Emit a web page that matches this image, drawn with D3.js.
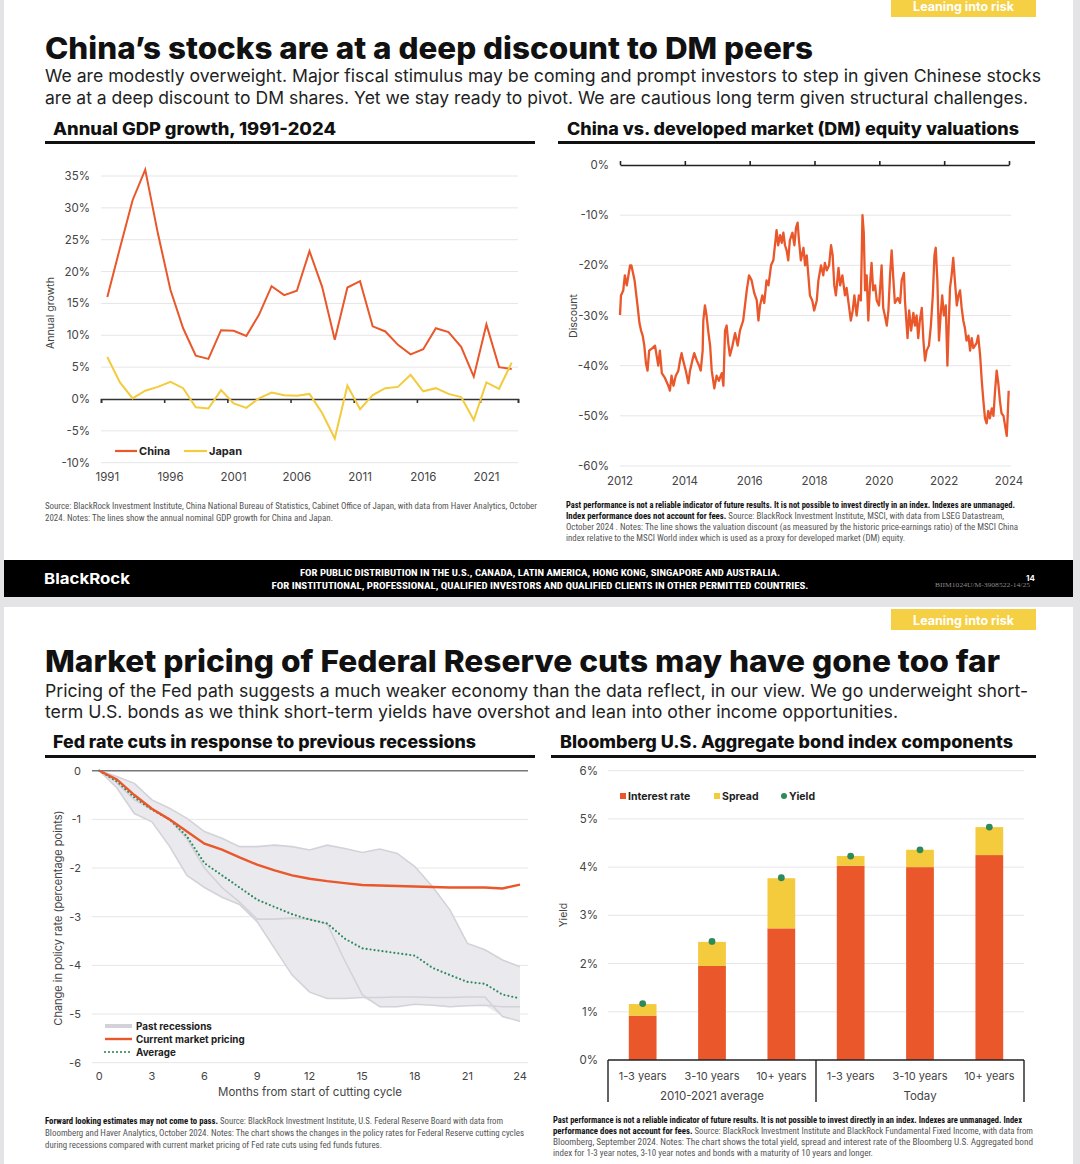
<!DOCTYPE html>
<html>
<head>
<meta charset="utf-8">
<script src="https://cdn.jsdelivr.net/npm/d3@7"></script>
<style>
  body { margin: 0; background: #e4e4e7; }
  svg { display: block; }
</style>
</head>
<body>
<svg id="page"></svg>
<script>
// ---------- data ----------
const gdpYears = [1991,1992,1993,1994,1995,1996,1997,1998,1999,2000,2001,2002,2003,2004,2005,2006,2007,
  2008,2009,2010,2011,2012,2013,2014,2015,2016,2017,2018,2019,2020,2021,2022,2023]
const chinaGdp = [16.0,23.7,31.2,36.0,26.0,17.1,11.1,6.8,6.3,10.8,10.7,9.9,13.2,17.7,16.3,17.0,23.2,
  17.6,9.3,17.5,18.5,11.4,10.6,8.5,7.0,7.8,11.1,10.5,8.2,3.5,11.7,5.0,4.7]
const japanGdp = [6.6,2.6,0.1,1.3,1.9,2.7,1.7,-1.3,-1.5,1.4,-0.7,-1.4,0.1,1.0,0.6,0.5,0.8,
  -2.2,-6.2,2.1,-1.6,0.6,1.7,1.9,3.8,1.2,1.7,0.8,0.3,-3.3,2.6,1.6,5.7]
const gdpTickYears = [1991,1996,2001,2006,2011,2016,2021]
const gdpTicks = [-10,-5,0,5,10,15,20,25,30,35]

const valDates = [
  2012.00,2012.03,2012.10,2012.15,2012.21,2012.26,2012.31,2012.35,2012.40,2012.45,2012.54,2012.60,2012.65,2012.70,2012.75,2012.80,2012.85,2012.90,
  2013.00,2013.08,2013.18,2013.23,2013.29,2013.39,2013.49,2013.54,2013.59,2013.65,2013.72,2013.80,2013.85,2013.90,2013.95,
  2014.03,2014.11,2014.16,2014.23,2014.29,2014.37,2014.44,2014.49,2014.55,2014.57,2014.62,2014.67,2014.72,2014.78,2014.83,2014.91,2014.98,
  2015.05,2015.14,2015.19,2015.24,2015.29,2015.34,2015.39,2015.47,2015.55,2015.63,2015.70,2015.80,2015.91,2015.98,
  2016.06,2016.14,2016.22,2016.27,2016.32,2016.39,2016.45,2016.52,2016.58,2016.66,2016.73,2016.78,2016.83,2016.88,2016.94,2016.99,
  2017.04,2017.09,2017.14,2017.19,2017.24,2017.32,2017.38,2017.43,2017.48,2017.52,2017.58,2017.66,2017.71,2017.76,2017.81,2017.86,2017.93,2017.99,
  2018.07,2018.12,2018.20,2018.27,2018.32,2018.38,2018.45,2018.51,2018.56,2018.61,2018.66,2018.74,2018.79,2018.86,2018.94,2018.99,
  2019.04,2019.12,2019.18,2019.23,2019.30,2019.37,2019.43,2019.48,2019.52,2019.56,2019.61,2019.66,2019.71,2019.76,2019.81,2019.87,2019.92,2019.99,
  2020.07,2020.12,2020.17,2020.23,2020.28,2020.33,2020.38,2020.43,2020.48,2020.57,2020.64,2020.69,2020.76,2020.79,2020.87,2020.92,2020.98,
  2021.05,2021.10,2021.15,2021.20,2021.25,2021.31,2021.36,2021.41,2021.46,2021.53,2021.59,2021.65,2021.70,2021.74,2021.79,2021.84,2021.89,2021.94,2021.99,
  2022.05,2022.10,2022.13,2022.18,2022.23,2022.28,2022.33,2022.39,2022.44,2022.49,2022.54,2022.59,2022.64,2022.69,2022.75,2022.80,2022.85,2022.90,2022.95,
  2023.00,2023.05,2023.11,2023.16,2023.21,2023.26,2023.31,2023.36,2023.41,2023.47,2023.52,2023.57,2023.62,2023.67,2023.72,2023.77,2023.83,2023.88,2023.93,2023.96,2023.99]
const valDiscount = [
  -29.9,-26,-25,-22,-24,-22,-20,-20,-21.5,-23,-28,-31.5,-33,-34,-36,-39.5,-41,-37,
  -36.5,-36,-40,-37,-41.5,-42.5,-44,-45,-42,-44,-42,-41,-39,-37.5,-39,
  -41,-43.5,-41,-39,-37.5,-39,-40,-41,-37,-31,-28,-30,-33,-36,-41,-44.5,-42,
  -43,-41.5,-44,-33,-32,-35.5,-38,-36,-33.5,-36,-33,-31,-25,-22,
  -23,-25.5,-27,-31,-28,-26,-27.5,-23,-24,-20,-19,-16,-13,-16,-14,-15.5,
  -13.5,-16,-17,-19,-15,-13.5,-16,-12.5,-11.5,-15,-19,-16.5,-20,-18,-22,-26,-27,-29,
  -27,-23,-20,-22,-19.5,-21,-20,-16,-18,-24,-26,-20.5,-24,-22,-26,-24.5,
  -27,-31,-29,-26,-30,-26,-27,-10,-13.5,-25,-22,-31,-24,-19.5,-25,-24,-27,-28,
  -20,-28.5,-30,-32,-29,-22,-17,-22.5,-27.5,-26.5,-27.5,-23,-21.5,-27,-34.5,-29,-33,
  -29.5,-32,-30,-34.5,-31,-28.5,-35,-39,-37,-36,-32,-26,-18,-16.5,-23,-35,-30,-26,-30,
  -28,-40,-34,-24.5,-22,-18.5,-23,-28,-26,-25,-28.5,-31,-32.5,-35,-34,-37,-34.5,-36.5,-36,
  -35.5,-34,-38,-43,-47,-50.5,-51.5,-49,-50.5,-48.5,-50,-45,-41,-43.5,-47,-49.5,-50,-52,-54,-50,-45]
const valTickYears = [2012,2014,2016,2018,2020,2022,2024]
const valTicks = [0,-10,-20,-30,-40,-50,-60]

const months = [0,1,2,3,4,5,6,7,8,9,10,11,12,13,14,15,16,17,18,19,20,21,22,23,24]
const recessionA = [0,-0.12,-0.26,-0.6,-0.77,-0.98,-1.25,-1.39,-1.56,-1.56,-1.53,-1.56,-1.63,-1.53,-1.6,-1.68,-1.61,-1.7,-1.97,-2.38,-2.86,-3.55,-3.68,-3.89,-4.03]
const recessionB = [0,-0.35,-0.88,-1.05,-1.55,-2.15,-2.4,-2.6,-2.75,-3.1,-3.65,-4.2,-4.55,-4.68,-4.68,-4.66,-4.66,-4.65,-4.65,-4.66,-4.66,-4.65,-4.65,-5.05,-5.15]
const recessionC = [0,-0.25,-0.6,-0.8,-1.0,-1.4,-2.0,-2.4,-2.7,-3.05,-3.05,-3.03,-3.05,-3.15,-3.9,-4.6,-4.85,-4.85,-4.8,-4.82,-4.85,-4.83,-4.82,-4.85,-4.85]
const marketPricing = [0,-0.18,-0.5,-0.78,-1.0,-1.25,-1.5,-1.62,-1.78,-1.93,-2.05,-2.15,-2.22,-2.27,-2.31,-2.35,-2.36,-2.37,-2.38,-2.39,-2.4,-2.4,-2.4,-2.42,-2.34]
const averageCuts = [0,-0.22,-0.55,-0.8,-1.0,-1.35,-1.9,-2.15,-2.4,-2.65,-2.8,-2.95,-3.06,-3.14,-3.45,-3.65,-3.7,-3.75,-3.8,-4.05,-4.2,-4.34,-4.38,-4.6,-4.68]
const monthTicks = [0,3,6,9,12,15,18,21,24]
const fedTicks = [0,-1,-2,-3,-4,-5,-6]

const bondCats = ['avg-1-3','avg-3-10','avg-10','now-1-3','now-3-10','now-10']
const bondLabels = ['1-3 years','3-10 years','10+ years','1-3 years','3-10 years','10+ years']
const bondGroups = ['2010-2021 average','Today']
const interestRate = [0.92,1.95,2.73,4.03,4.0,4.25]
const spread = [0.24,0.5,1.04,0.2,0.36,0.58]
const totalYield = [1.17,2.46,3.78,4.23,4.36,4.83]
const bondTicks = [0,1,2,3,4,5,6]

// ---------- page ----------
const W = 1080, H = 1164
const ORANGE = '#e9572b', YELLOW = '#f3cb3d', GREEN = '#2e8a5a', SANS = 'Inter, Roboto, "Noto Sans", sans-serif'
const NARROW = '"Liberation Sans Narrow", "Roboto Condensed", "Liberation Sans", sans-serif'
const svg = d3.select('#page').attr('width', W).attr('height', H)

svg.append('rect').attr('width', W).attr('height', H).attr('fill', '#e4e4e7')
svg.append('rect').attr('x', 4).attr('y', 0).attr('width', 1069).attr('height', 597).attr('fill', '#fff')
svg.append('rect').attr('x', 4).attr('y', 607).attr('width', 1069).attr('height', 557).attr('fill', '#fff')

function txt(g, x, y, s, o = {}) {
  const t = g.append('text').attr('x', x).attr('y', y).text(s)
    .attr('font-family', o.family || SANS)
    .attr('font-size', o.size || 11)
    .attr('font-weight', o.weight || 400)
    .attr('fill', o.fill || '#333')
    .attr('text-anchor', o.anchor || 'start')
  if (o.width) t.attr('textLength', o.width).attr('lengthAdjust', 'spacingAndGlyphs')
  if (o.rotate) t.attr('transform', `rotate(-90,${x},${y})`)
  return t
}
function rich(g, x, y, parts, o = {}) {
  const t = g.append('text').attr('x', x).attr('y', y)
    .attr('font-family', NARROW).attr('font-size', o.size || 8.6).attr('fill', '#555')
  parts.forEach(p => t.append('tspan').text(p[0]).attr('font-weight', p[1] ? 700 : 400).attr('fill', p[1] ? '#111' : '#555'))
  if (o.width) t.attr('textLength', o.width).attr('lengthAdjust', 'spacingAndGlyphs')
  return t
}
function tag(y, h, ty) {
  svg.append('rect').attr('x', 891).attr('y', y).attr('width', 145).attr('height', h).attr('fill', '#f5cf44')
  txt(svg, 963.5, ty, 'Leaning into risk', { size: 12.5, weight: 700, fill: '#fff', anchor: 'middle' })
}
function chartTitle(x, y, s, w, x1, x2, ly) {
  txt(svg, x, y, s, { size: 17, weight: 800, fill: '#111', width: w })
  svg.append('line').attr('x1', x1).attr('x2', x2).attr('y1', ly).attr('y2', ly).attr('stroke', '#111').attr('stroke-width', 3)
}

// ---------- slide 1 header ----------
tag(0, 17, 11)
txt(svg, 45, 59, 'China’s stocks are at a deep discount to DM peers', { size: 30, weight: 800, fill: '#111', width: 768 })
txt(svg, 45, 82, 'We are modestly overweight. Major fiscal stimulus may be coming and prompt investors to step in given Chinese stocks', { size: 17.5, fill: '#222', width: 996 })
txt(svg, 45, 104, 'are at a deep discount to DM shares. Yet we stay ready to pivot. We are cautious long term given structural challenges.', { size: 17.5, fill: '#222', width: 983 })
chartTitle(53, 135, 'Annual GDP growth, 1991-2024', 283, 45, 535, 142.5)
chartTitle(567, 135, 'China vs. developed market (DM) equity valuations', 452, 558, 1035, 142.5)

// ---------- chart 1: GDP ----------
{
  const g = svg.append('g')
  const x = d3.scaleLinear().domain([1990.5, 2023.5]).range([101, 518])
  const y = d3.scaleLinear().domain([-10, 35]).range([462.7, 176])
  g.selectAll('.grid').data(gdpTicks.filter(d => d !== 0)).join('line')
    .attr('x1', 101).attr('x2', 518).attr('y1', d => y(d)).attr('y2', d => y(d))
    .attr('stroke', '#e6e6e8').attr('stroke-width', 1)
  g.selectAll('.yl').data(gdpTicks).join('text')
    .attr('x', 90).attr('y', d => y(d) + 4).attr('text-anchor', 'end')
    .attr('font-family', SANS).attr('font-size', 11.5).attr('fill', '#444').text(d => d + '%')
  const xAxis = d3.axisBottom(x).tickValues(gdpTickYears.map(d => d - 0.5).concat([2023.5])).tickSize(4).tickFormat('')
  g.append('g').attr('transform', `translate(0,${y(0)})`).call(xAxis)
    .call(a => a.selectAll('line,path').attr('stroke', '#333').attr('stroke-width', 1.6))
  g.selectAll('.xl').data(gdpTickYears).join('text')
    .attr('x', d => x(d)).attr('y', 481).attr('text-anchor', 'middle')
    .attr('font-family', SANS).attr('font-size', 11.5).attr('fill', '#444').text(d => d)
  txt(g, 54, 313, 'Annual growth', { size: 10.5, fill: '#444', anchor: 'middle', rotate: true })
  const line = d3.line().x((d, i) => x(gdpYears[i])).y(d => y(d))
  g.append('path').attr('d', line(chinaGdp)).attr('fill', 'none').attr('stroke', ORANGE).attr('stroke-width', 2)
  g.append('path').attr('d', line(japanGdp)).attr('fill', 'none').attr('stroke', YELLOW).attr('stroke-width', 2)
  g.append('line').attr('x1', 115).attr('x2', 137).attr('y1', 451).attr('y2', 451).attr('stroke', ORANGE).attr('stroke-width', 2.2)
  txt(g, 139, 455, 'China', { size: 11, weight: 700, fill: '#222' })
  g.append('line').attr('x1', 184).attr('x2', 207).attr('y1', 451).attr('y2', 451).attr('stroke', YELLOW).attr('stroke-width', 2.2)
  txt(g, 209, 455, 'Japan', { size: 11, weight: 700, fill: '#222' })
}

// ---------- chart 2: valuations ----------
{
  const g = svg.append('g')
  const x = d3.scaleLinear().domain([2012, 2024]).range([620, 1009])
  const y = d3.scaleLinear().domain([-60, 0]).range([466, 165])
  g.selectAll('.grid').data(valTicks.filter(d => d !== 0)).join('line')
    .attr('x1', 620).attr('x2', 1011).attr('y1', d => y(d)).attr('y2', d => y(d))
    .attr('stroke', '#e6e6e8')
  g.append('g').attr('transform', `translate(0,${y(0)})`)
    .call(d3.axisTop(x).tickValues(valTickYears).tickSize(4).tickSizeOuter(0).tickFormat(''))
    .call(a => a.selectAll('line,path').attr('stroke', '#222').attr('stroke-width', 1.6))
  g.selectAll('.yl').data(valTicks).join('text')
    .attr('x', 609).attr('y', d => y(d) + 4).attr('text-anchor', 'end')
    .attr('font-family', SANS).attr('font-size', 11.5).attr('fill', '#444').text(d => d + '%')
  g.selectAll('.xl').data(valTickYears).join('text')
    .attr('x', d => x(d)).attr('y', 485).attr('text-anchor', 'middle')
    .attr('font-family', SANS).attr('font-size', 11.5).attr('fill', '#444').text(d => d)
  txt(g, 577, 316, 'Discount', { size: 10.5, fill: '#444', anchor: 'middle', rotate: true })
  const line = d3.line().x((d, i) => x(valDates[i])).y(d => y(d))
  g.append('path').attr('d', line(valDiscount)).attr('fill', 'none').attr('stroke', ORANGE)
    .attr('stroke-width', 2.3).attr('stroke-linejoin', 'round')
}

// ---------- slide 1 notes and footer ----------
rich(svg, 45, 509, [['Source: BlackRock Investment Institute, China National Bureau of Statistics, Cabinet Office of Japan, with data from Haver Analytics, October', 0]], { width: 492 })
rich(svg, 45, 521, [['2024. Notes: The lines show the annual nominal GDP growth for China and Japan.', 0]], { width: 288 })
rich(svg, 566, 508, [['Past performance is not a reliable indicator of future results. It is not possible to invest directly in an index. Indexes are unmanaged.', 1]], { width: 449 })
rich(svg, 566, 519, [['Index performance does not account for fees.', 1], [' Source: BlackRock Investment Institute, MSCI, with data from LSEG Datastream,', 0]], { width: 438 })
rich(svg, 566, 530, [['October 2024 . Notes: The line shows the valuation discount (as measured by the historic price-earnings ratio) of the MSCI China', 0]], { width: 452 })
rich(svg, 566, 541, [['index relative to the MSCI World index which is used as a proxy for developed market (DM) equity.', 0]], { width: 339 })

svg.append('rect').attr('x', 4).attr('y', 560).attr('width', 1069).attr('height', 37).attr('fill', '#000')
txt(svg, 44, 584, 'BlackRock', { size: 15, weight: 700, fill: '#fff', width: 86 })
txt(svg, 540, 576, 'FOR PUBLIC DISTRIBUTION IN THE U.S., CANADA, LATIN AMERICA, HONG KONG, SINGAPORE AND AUSTRALIA.', { size: 9.5, weight: 700, fill: '#fff', anchor: 'middle', family: NARROW, width: 480 })
txt(svg, 540, 589, 'FOR INSTITUTIONAL, PROFESSIONAL, QUALIFIED INVESTORS AND QUALIFIED CLIENTS IN OTHER PERMITTED COUNTRIES.', { size: 9.5, weight: 700, fill: '#fff', anchor: 'middle', family: NARROW, width: 537 })
txt(svg, 935, 587, 'BIIM1024U/M-3908522-14/25', { size: 6, fill: '#888', family: 'Liberation Serif, serif', width: 95 })
txt(svg, 1026, 581, '14', { size: 8, weight: 700, fill: '#fff' })

// ---------- slide 2 header ----------
tag(609, 21, 624.5)
txt(svg, 45, 672, 'Market pricing of Federal Reserve cuts may have gone too far', { size: 30, weight: 800, fill: '#111', width: 955 })
txt(svg, 45, 697, 'Pricing of the Fed path suggests a much weaker economy than the data reflect, in our view. We go underweight short-', { size: 17.5, fill: '#222', width: 983 })
txt(svg, 45, 718, 'term U.S. bonds as we think short-term yields have overshot and lean into other income opportunities.', { size: 17.5, fill: '#222', width: 853 })
chartTitle(53, 748, 'Fed rate cuts in response to previous recessions', 423, 45, 535, 756.5)
chartTitle(560, 748, 'Bloomberg U.S. Aggregate bond index components', 453, 551, 1036, 756.5)

// ---------- chart 3: Fed cuts ----------
{
  const g = svg.append('g')
  const x = d3.scaleLinear().domain([0, 24]).range([99.3, 520])
  const y = d3.scaleLinear().domain([-6, 0]).range([1062.7, 770.7])
  const recessions = [recessionA, recessionB, recessionC]
  g.selectAll('.grid').data(fedTicks.filter(d => d !== 0)).join('line')
    .attr('x1', 92).attr('x2', 528).attr('y1', d => y(d)).attr('y2', d => y(d)).attr('stroke', '#e6e6e8')
  const band = d3.area().x(d => x(d)).y0(d => y(d3.max(recessions, r => r[d]))).y1(d => y(d3.min(recessions, r => r[d])))
  g.append('path').attr('d', band(months)).attr('fill', '#e9e9ee')
  const line = d3.line().x((d, i) => x(months[i])).y(d => y(d))
  recessions.forEach(r => g.append('path').attr('d', line(r)).attr('fill', 'none').attr('stroke', '#d2d2d8').attr('stroke-width', 1.6))
  g.append('line').attr('x1', 92).attr('x2', 528).attr('y1', y(0)).attr('y2', y(0)).attr('stroke', '#777').attr('stroke-width', 1.6)
  g.append('path').attr('d', line(averageCuts)).attr('fill', 'none').attr('stroke', GREEN).attr('stroke-width', 2.2).attr('stroke-dasharray', '0,4').attr('stroke-linecap', 'round')
  g.append('path').attr('d', line(marketPricing)).attr('fill', 'none').attr('stroke', ORANGE).attr('stroke-width', 2.4)
  g.selectAll('.yl').data(fedTicks).join('text')
    .attr('x', 81).attr('y', d => y(d) + 4).attr('text-anchor', 'end')
    .attr('font-family', SANS).attr('font-size', 11).attr('fill', '#444').text(d => d)
  g.selectAll('.xl').data(monthTicks).join('text')
    .attr('x', d => x(d)).attr('y', 1080).attr('text-anchor', 'middle')
    .attr('font-family', SANS).attr('font-size', 11).attr('fill', '#444').text(d => d)
  txt(g, 310, 1096, 'Months from start of cutting cycle', { size: 11.5, fill: '#444', anchor: 'middle' })
  txt(g, 62, 918, 'Change in policy rate (percentage points)', { size: 11, fill: '#444', anchor: 'middle', rotate: true })
  const leg = [['Past recessions', '#d2d2d8', 4, null], ['Current market pricing', ORANGE, 2.4, null], ['Average', GREEN, 2.2, '0,4']]
  leg.forEach((d, i) => {
    const ly = 1026 + i * 13
    g.append('line').attr('x1', 105).attr('x2', 132).attr('y1', ly).attr('y2', ly)
      .attr('stroke', d[1]).attr('stroke-width', d[2]).attr('stroke-dasharray', d[3]).attr('stroke-linecap', d[3] ? 'round' : 'butt')
    txt(g, 136, ly + 3.5, d[0], { size: 9.8, weight: 700, fill: '#222' })
  })
}

// ---------- chart 4: bond components ----------
{
  const g = svg.append('g')
  const x = d3.scaleBand().domain(bondCats).range([608, 1024]).paddingInner(0.6).paddingOuter(0.3)
  const y = d3.scaleLinear().domain([0, 6]).range([1060, 770.7])
  g.selectAll('.grid').data(bondTicks.filter(d => d !== 0)).join('line')
    .attr('x1', 608).attr('x2', 1024).attr('y1', d => y(d)).attr('y2', d => y(d)).attr('stroke', '#e6e6e8')
  g.selectAll('.yl').data(bondTicks).join('text')
    .attr('x', 598).attr('y', d => y(d) + 4).attr('text-anchor', 'end')
    .attr('font-family', SANS).attr('font-size', 11.5).attr('fill', '#444').text(d => d + '%')
  g.selectAll('.ir').data(interestRate).join('rect')
    .attr('x', (d, i) => x(bondCats[i])).attr('width', x.bandwidth())
    .attr('y', d => y(d)).attr('height', d => y(0) - y(d)).attr('fill', ORANGE)
  g.selectAll('.sp').data(spread).join('rect')
    .attr('x', (d, i) => x(bondCats[i])).attr('width', x.bandwidth())
    .attr('y', (d, i) => y(interestRate[i] + d)).attr('height', (d, i) => y(interestRate[i]) - y(interestRate[i] + d)).attr('fill', YELLOW)
  g.selectAll('.yd').data(totalYield).join('circle')
    .attr('cx', (d, i) => x(bondCats[i]) + x.bandwidth() / 2).attr('cy', d => y(d)).attr('r', 3.4).attr('fill', GREEN)
  g.append('line').attr('x1', 608).attr('x2', 1024).attr('y1', y(0)).attr('y2', y(0)).attr('stroke', '#222').attr('stroke-width', 1.4)
  ;[608, 816, 1024].forEach(v => g.append('line').attr('x1', v).attr('x2', v).attr('y1', y(0)).attr('y2', 1102).attr('stroke', '#222').attr('stroke-width', 1.4))
  g.selectAll('.xl').data(bondLabels).join('text')
    .attr('x', (d, i) => x(bondCats[i]) + x.bandwidth() / 2).attr('y', 1080).attr('text-anchor', 'middle')
    .attr('font-family', SANS).attr('font-size', 11).attr('fill', '#444').text(d => d)
  bondGroups.forEach((s, i) => txt(g, i === 0 ? 712 : 920, 1100, s, { size: 11.5, fill: '#444', anchor: 'middle' }))
  txt(g, 567, 915, 'Yield', { size: 10.5, fill: '#444', anchor: 'middle', rotate: true })
  g.append('rect').attr('x', 620).attr('y', 793).attr('width', 6).attr('height', 6).attr('fill', ORANGE)
  txt(g, 628, 800, 'Interest rate', { size: 10.5, weight: 700, fill: '#222' })
  g.append('rect').attr('x', 714).attr('y', 793).attr('width', 6).attr('height', 6).attr('fill', YELLOW)
  txt(g, 722, 800, 'Spread', { size: 10.5, weight: 700, fill: '#222' })
  g.append('circle').attr('cx', 784).attr('cy', 796).attr('r', 3).attr('fill', GREEN)
  txt(g, 789, 800, 'Yield', { size: 10.5, weight: 700, fill: '#222' })
}

// ---------- slide 2 notes ----------
rich(svg, 45, 1124, [['Forward looking estimates may not come to pass.', 1], [' Source: BlackRock Investment Institute, U.S. Federal Reserve Board with data from', 0]], { width: 458 })
rich(svg, 45, 1136, [['Bloomberg and Haver Analytics, October 2024. Notes: The chart shows the changes in the policy rates for Federal Reserve cutting cycles', 0]], { width: 479 })
rich(svg, 45, 1148, [['during recessions compared with current market pricing of Fed rate cuts using fed funds futures.', 0]], { width: 337 })
rich(svg, 553, 1123, [['Past performance is not a reliable indicator of future results. It is not possible to invest directly in an index. Indexes are unmanaged. Index', 1]], { width: 469 })
rich(svg, 553, 1134, [['performance does not account for fees.', 1], [' Source: BlackRock Investment Institute and BlackRock Fundamental Fixed Income, with data from', 0]], { width: 480 })
rich(svg, 553, 1145, [['Bloomberg, September 2024. Notes: The chart shows the total yield, spread and interest rate of the Bloomberg U.S. Aggregated bond', 0]], { width: 480 })
rich(svg, 553, 1156, [['index for 1-3 year notes, 3-10 year notes and bonds with a maturity of 10 years and longer.', 0]], { width: 320 })

if (valDates.length !== valDiscount.length) console.warn('valuation arrays differ', valDates.length, valDiscount.length)
</script>
</body>
</html>
